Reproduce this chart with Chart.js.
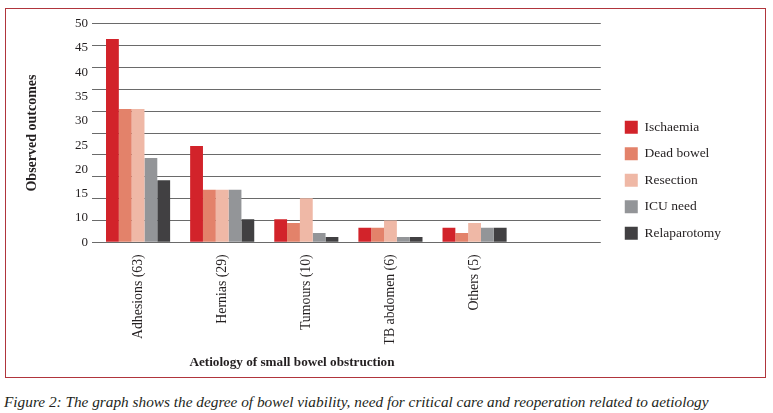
<!DOCTYPE html>
<html>
<head>
<meta charset="utf-8">
<script src="https://cdn.jsdelivr.net/npm/chart.js@4.4.1/dist/chart.umd.min.js"></script>
<style>
  html, body { margin: 0; padding: 0; background: #ffffff; }
  body { width: 773px; height: 413px; position: relative; overflow: hidden; font-family: 'Liberation Serif', 'DejaVu Serif', serif; color: #231f20; }
  #frame { position: absolute; left: 5px; top: 8px; width: 761px; height: 370px; box-sizing: border-box; border: 1px solid #b0353c; }
  #wrap { position: absolute; left: 6px; top: 9px; width: 759px; height: 368px; }
  #xtitle { position: absolute; left: 142px; top: 353px; width: 300px; text-align: center; font-weight: bold; font-size: 13.2px; line-height: 18px; }
  #caption { position: absolute; left: 4px; top: 393px; font-style: italic; font-size: 15.3px; line-height: 18px; white-space: nowrap; }
</style>
</head>
<body>
<div id="frame"></div>
<div id="wrap"><canvas id="c"></canvas></div>
<div id="xtitle">Aetiology of small bowel obstruction</div>
<div id="caption">Figure 2: The graph shows the degree of bowel viability, need for critical care and reoperation related to aetiology</div>
<script>
const categories = ["Adhesions (63)", "Hernias (29)", "Tumours (10)", "TB abdomen (6)", "Others (5)", ""];
const ischaemia    = [46.5, 22.0, 5.3, 3.3, 3.3];
const deadBowel    = [30.5, 12.0, 4.4, 3.3, 2.1];
const resection    = [30.5, 12.0, 10.1, 5.0, 4.4];
const icuNeed      = [19.3, 12.0, 2.1, 1.2, 3.3];
const relaparotomy = [14.2, 5.3, 1.2, 1.2, 3.3];
const yTickLabels  = ["0", "10", "15", "20", "25", "30", "35", "40", "45", "50"];

Chart.defaults.font.family = "'Liberation Serif', 'DejaVu Serif', serif";
Chart.defaults.color = '#231f20';

const mk = (label, data, color) => ({ label, data, backgroundColor: color, borderWidth: 0, categoryPercentage: 0.762, barPercentage: 1.0, yAxisID: 'y' });

new Chart(document.getElementById('c'), {
  type: 'bar',
  data: {
    labels: categories,
    datasets: [
      mk('Ischaemia', ischaemia, '#d2232a'),
      mk('Dead bowel', deadBowel, '#e3826a'),
      mk('Resection', resection, '#efb8a6'),
      mk('ICU need', icuNeed, '#939598'),
      mk('Relaparotomy', relaparotomy, '#414042')
    ]
  },
  options: {
    responsive: true,
    maintainAspectRatio: false,
    animation: false,
    layout: { padding: { left: 0, top: 14.7, right: 34, bottom: 32.7 } },
    plugins: {
      tooltip: { enabled: false },
      legend: {
        position: 'right',
        align: 'start',
        maxWidth: 220,
        title: { display: true, text: '', font: { size: 12 }, padding: { top: 69.4, bottom: 0 } },
        labels: { boxWidth: 13, boxHeight: 13, padding: 13, font: { size: 13.5 }, color: '#231f20' }
      }
    },
    scales: {
      x: {
        type: 'category',
        grid: { display: false, drawTicks: false },
        border: { display: false },
        ticks: { minRotation: 90, maxRotation: 90, autoSkip: false, padding: 12, font: { size: 13.8 }, color: '#231f20' },
        afterFit: s => { s.height = 102; }
      },
      y: {
        type: 'linear',
        position: 'left',
        weight: 0,
        min: 0, max: 50,
        ticks: { display: false, stepSize: 5 },
        grid: { color: '#6a6a6a', lineWidth: 1, tickLength: 4, drawTicks: true },
        border: { display: false },
        afterFit: s => { s.width = 4; }
      },
      yl: {
        type: 'linear',
        position: 'left',
        weight: 10,
        min: 0, max: 9,
        grid: { display: false, drawTicks: false },
        border: { display: false },
        ticks: { stepSize: 1, autoSkip: false, padding: 4, font: { size: 13 }, color: '#231f20',
                 callback: (v, i) => yTickLabels[i] },
        title: { display: true, text: 'Observed outcomes', font: { size: 14, weight: 'bold' }, color: '#231f20', padding: { top: 18, bottom: 0 } },
        afterFit: s => { s.width = 86; }
      },
      spacer: {
        type: 'linear',
        position: 'right',
        weight: 0,
        grid: { display: false, drawTicks: false },
        border: { display: false },
        ticks: { display: false },
        afterFit: s => { s.width = 11; }
      }
    }
  }
});
</script>
</body>
</html>
